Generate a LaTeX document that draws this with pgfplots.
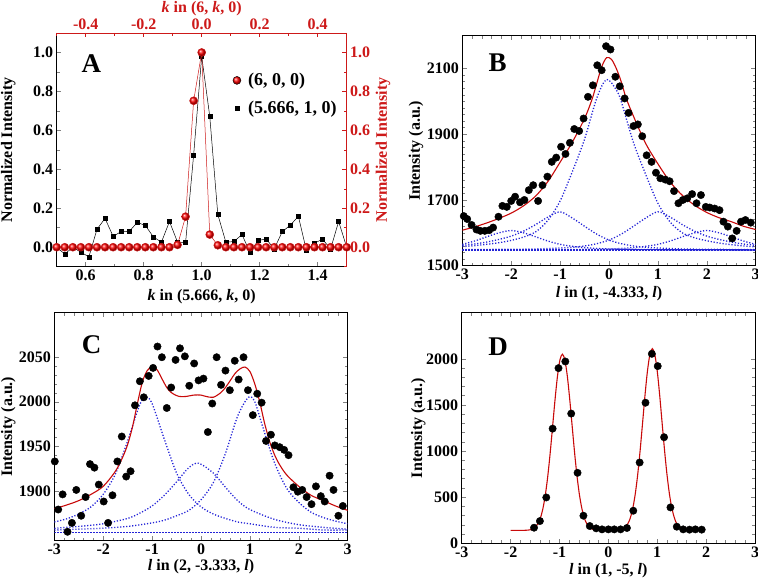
\documentclass[border=0pt]{standalone}
\usepackage{fontspec}
\setmainfont{Liberation Serif}
\usepackage{pgfplots}
\pgfplotsset{compat=1.18}
\definecolor{redA}{RGB}{205,25,25}
\definecolor{fitred}{RGB}{200,10,10}
\definecolor{compblue}{RGB}{35,35,215}
\pgfdeclareplotmark{redball}{\shade[ball color=red] (0pt,0pt) circle (\pgfplotmarksize);}
\pgfplotsset{
  every axis/.append style={
    scale only axis,
    /pgf/number format/assume math mode=true,
    /pgf/number format/1000 sep={},
    scaled ticks=false,
    tick align=inside,
    tick label style={font=\fontsize{16}{16}\selectfont\bfseries},
    label style={font=\fontsize{16}{18}\selectfont\bfseries},
    axis line style={line width=0.6pt},
    every tick/.append style={line width=0.5pt},
  },
  comp/.style={compblue, line width=1.3pt, dash pattern=on 1.2pt off 1.8pt, smooth},
  fit/.style={fitred, line width=1.1pt, smooth},
  pts/.style={only marks, mark=*, mark size=3.7pt, black},
}
\begin{document}
\begin{tikzpicture}
% ---------------- Panel A : bottom/left axis (black squares)
\begin{axis}[at={(56.7pt,313.3pt)}, anchor=south west, width=290pt, height=233.7pt,
  xmin=0.5, xmax=1.5, ymin=-0.1, ymax=1.1, clip=false,
  axis x line*=bottom, axis y line*=left,
  xtick={0.6,0.8,1.0,1.2,1.4}, minor xtick={0.5,0.7,0.9,1.1,1.3,1.5},
  ytick={0,0.2,0.4,0.6,0.8,1.0}, minor ytick={-0.1,0.1,0.3,0.5,0.7,0.9,1.1},
  xticklabel style={/pgf/number format/.cd,fixed,fixed zerofill,precision=1},
  yticklabel style={/pgf/number format/.cd,fixed,fixed zerofill,precision=1},
  xlabel={\textit{k} in (5.666, \textit{k}, 0)}, ylabel={Normalized Intensity},
  xlabel style={at={(axis description cs:0.5,-0.128)}, anchor=center},
  ylabel style={at={(axis description cs:-0.167,0.5)}, anchor=center},
  legend style={at={(axis description cs:0.596,0.845)}, anchor=north west, draw=none, fill=none,
    font=\fontsize{18}{20}\selectfont\bfseries, row sep=10pt, cells={anchor=west},
    /tikz/every odd column/.append style={column sep=5pt}},
  legend image code/.code={\draw[#1] plot coordinates {(0.2cm,0cm)};},
]
\addlegendimage{only marks, mark=redball, mark size=4pt}
\addlegendentry{(6, 0, 0)}
\addlegendimage{only marks, mark=square*, mark size=2.2pt, black}
\addlegendentry{(5.666, 1, 0)}
\addplot[black, line width=0.5pt, mark=square*, mark size=2pt, forget plot] coordinates {
(0.5,0.0) (0.52778,-0.035) (0.55556,0.0) (0.58333,-0.026) (0.61111,-0.049) (0.63889,0.092)
(0.66667,0.148) (0.69444,0.056) (0.72222,0.080) (0.75,0.081) (0.77778,0.127) (0.80556,0.112)
(0.83333,0.053) (0.86111,0.026) (0.88889,0.132) (0.91667,0.026) (0.94444,0.024) (0.97222,0.474)
(1.0,0.98) (1.02778,0.672) (1.05556,0.168) (1.08333,0.026) (1.11111,0.029) (1.13889,0.065)
(1.16667,-0.027) (1.19444,0.034) (1.22222,0.043) (1.25,-0.009) (1.27778,0.080) (1.30556,0.113)
(1.33333,0.159) (1.36111,-0.017) (1.38889,0.021) (1.41667,0.041) (1.44444,-0.009) (1.47222,0.132)
(1.5,0.0)};
\node[font=\fontsize{27}{27}\selectfont\bfseries] at (axis description cs:0.12,0.867) {A};
\end{axis}
% ---------------- Panel A : top/right axis (red balls)
\begin{axis}[at={(56.7pt,313.3pt)}, anchor=south west, width=290pt, height=233.7pt,
  xmin=-0.5, xmax=0.5, ymin=-0.1, ymax=1.1, clip=false,
  axis x line*=top, axis y line*=right,
  axis line style={redA, line width=0.6pt},
  every tick/.append style={redA},
  tick label style={text=redA},
  xtick={-0.4,-0.2,0,0.2,0.4}, minor xtick={-0.5,-0.3,-0.1,0.1,0.3,0.5},
  ytick={0,0.2,0.4,0.6,0.8,1.0}, minor ytick={-0.1,0.1,0.3,0.5,0.7,0.9,1.1},
  xticklabel style={/pgf/number format/.cd,fixed,fixed zerofill,precision=1},
  yticklabel style={/pgf/number format/.cd,fixed,fixed zerofill,precision=1},
  xlabel={\textit{k} in (6, \textit{k}, 0)}, ylabel={Normalized Intensity},
  xlabel style={at={(axis description cs:0.5,1.106)}, anchor=center, text=redA},
  ylabel style={at={(axis description cs:1.125,0.5)}, anchor=center, text=redA},
]
\addplot[redA, line width=0.5pt, mark=redball, mark size=4pt] coordinates {
(-0.5,0) (-0.47222,0) (-0.44444,0) (-0.41667,0) (-0.38889,0) (-0.36111,0) (-0.33333,0)
(-0.30556,0) (-0.27778,0) (-0.25,0) (-0.22222,0) (-0.19444,0) (-0.16667,0) (-0.13889,0)
(-0.11111,0) (-0.08333,0.012) (-0.05556,0.157) (-0.02778,0.752) (0,1.0) (0.02778,0.065)
(0.05556,0.01) (0.08333,0) (0.11111,0) (0.13889,0) (0.16667,0) (0.19444,0) (0.22222,0)
(0.25,0) (0.27778,0) (0.30556,0) (0.33333,0) (0.36111,0) (0.38889,0) (0.41667,0)
(0.44444,0) (0.47222,0) (0.5,0)};
\end{axis}
% ---------------- Panel B
\begin{axis}[at={(462.3pt,314.3pt)}, anchor=south west, width=293.4pt, height=230pt,
  xmin=-3, xmax=3, ymin=1500, ymax=2200,
  xtick={-3,-2,-1,0,1,2,3}, minor x tick num=4,
  ytick={1500,1700,1900,2100}, minor y tick num=9,
  xlabel={\textit{l} in (1, -4.333, \textit{l})}, ylabel={Intensity (a.u.)},
  xlabel style={at={(axis description cs:0.5,-0.12)}, anchor=center},
  ylabel style={at={(axis description cs:-0.158,0.5)}, anchor=center},
]
\addplot[comp] coordinates {(-3,1548) (3,1548)};
\addplot[comp] coordinates {(-3,1558) (-2.75,1561) (-2.5,1565) (-2.25,1570) (-2,1577) (-1.75,1587) (-1.5,1603) (-1.25,1638) (-1,1697) (-0.75,1786) (-0.5,1885) (-0.25,2010) (-0.05,2067) (0.15,2035) (0.25,2000) (0.5,1875) (0.75,1778) (1,1690) (1.25,1633) (1.5,1600) (1.75,1585) (2,1576) (2.25,1569) (2.5,1564) (2.75,1560) (3,1557)};
\addplot[comp] coordinates {(-3,1562) (-2.75,1566) (-2.5,1572) (-2.25,1580) (-2,1590) (-1.75,1605) (-1.5,1625) (-1.25,1648) (-1,1664) (-0.75,1645) (-0.5,1620) (-0.25,1596) (0,1578) (0.25,1567) (0.5,1560) (0.75,1556) (1,1554) (1.5,1551) (2,1550) (3,1549)};
\addplot[comp] coordinates {(-3,1549) (-2,1550) (-1.5,1551) (-1,1554) (-0.75,1556) (-0.5,1560) (-0.25,1567) (0,1578) (0.25,1596) (0.5,1620) (0.75,1645) (1,1664) (1.25,1648) (1.5,1625) (1.75,1605) (2,1590) (2.25,1580) (2.5,1572) (2.75,1566) (3,1562)};
\addplot[comp] coordinates {(-3,1565) (-2.75,1575) (-2.5,1588) (-2.25,1600) (-2,1607) (-1.75,1600) (-1.5,1588) (-1.25,1575) (-1,1565) (-0.75,1559) (-0.5,1555) (0,1551) (1,1549) (3,1548)};
\addplot[comp] coordinates {(-3,1548) (-1,1549) (0,1551) (0.5,1555) (0.75,1559) (1,1565) (1.25,1575) (1.5,1588) (1.75,1600) (2,1607) (2.25,1600) (2.5,1588) (2.75,1575) (3,1565)};
\addplot[pts] coordinates {
(-2.97,1651) (-2.90,1642) (-2.81,1624) (-2.71,1610) (-2.63,1606) (-2.54,1606) (-2.45,1608)
(-2.37,1616) (-2.26,1649) (-2.18,1682) (-2.09,1679) (-2.00,1697) (-1.92,1710) (-1.82,1693)
(-1.73,1700) (-1.64,1730) (-1.55,1745) (-1.45,1697) (-1.36,1745) (-1.26,1771) (-1.17,1816)
(-1.08,1829) (-0.98,1862) (-0.89,1840) (-0.80,1874) (-0.71,1916) (-0.61,1910) (-0.52,1948)
(-0.43,2014) (-0.33,2049) (-0.24,2110) (-0.15,2095) (-0.06,2168) (0.03,2158) (0.13,2075)
(0.22,2046) (0.32,2009) (0.40,1965) (0.50,1925) (0.59,1930) (0.68,1894) (0.77,1836)
(0.87,1816) (0.96,1783) (1.05,1766) (1.15,1762) (1.24,1757) (1.33,1727) (1.42,1690)
(1.51,1700) (1.60,1705) (1.70,1718) (1.79,1690) (1.88,1715) (1.98,1679) (2.06,1677)
(2.16,1674) (2.26,1669) (2.34,1634) (2.43,1619) (2.52,1583) (2.61,1606) (2.70,1634)
(2.79,1639) (2.90,1631)};
\addplot[fit] coordinates {(-3,1608) (-2.75,1618) (-2.5,1630) (-2.25,1644) (-2,1660) (-1.75,1682) (-1.5,1712) (-1.25,1756) (-1,1815) (-0.75,1876) (-0.5,1948) (-0.35,2005) (-0.25,2055) (-0.15,2105) (-0.05,2133) (0.05,2128) (0.15,2100) (0.25,2060) (0.35,2010) (0.5,1955) (0.75,1872) (1,1810) (1.25,1755) (1.5,1714) (1.75,1684) (2,1662) (2.25,1646) (2.5,1634) (2.75,1620) (3,1610)};
\node[font=\fontsize{27}{27}\selectfont\bfseries] at (axis description cs:0.12,0.883) {B};
\end{axis}
% ---------------- Panel C
\begin{axis}[at={(54.3pt,39.3pt)}, anchor=south west, width=293.4pt, height=228pt,
  xmin=-3, xmax=3, ymin=1844, ymax=2100,
  xtick={-3,-2,-1,0,1,2,3}, minor x tick num=4,
  ytick={1900,1950,2000,2050}, minor y tick num=4,
  xlabel={\textit{l} in (2, -3.333, \textit{l})}, ylabel={Intensity (a.u.)},
  xlabel style={at={(axis description cs:0.5,-0.113)}, anchor=center},
  ylabel style={at={(axis description cs:-0.157,0.5)}, anchor=center},
]
\addplot[comp] coordinates {(-3,1853) (3,1853)};
\addplot[comp] coordinates {(-3,1865) (-2.75,1868.5) (-2.5,1874) (-2.25,1882) (-2,1896) (-1.75,1919) (-1.5,1956) (-1.25,1997) (-1.12,2005) (-1,1998) (-0.75,1958) (-0.5,1920) (-0.25,1896) (0,1882) (0.25,1874) (0.5,1869) (0.75,1865) (1,1863) (1.5,1859) (2,1858) (2.5,1856) (3,1856)};
\addplot[comp] coordinates {(-3,1856) (-2.5,1857) (-2,1858) (-1.5,1860) (-1,1864) (-0.75,1867) (-0.5,1872) (-0.25,1878) (0,1890) (0.25,1909) (0.5,1942) (0.75,1984) (0.97,2005) (1.1,2000) (1.25,1974) (1.5,1932) (1.75,1903) (2,1887) (2.25,1876) (2.5,1870) (2.75,1866) (3,1863)};
\addplot[comp] coordinates {(-3,1858) (-2.5,1860) (-2,1863) (-1.5,1869) (-1.25,1875) (-1,1883) (-0.75,1895) (-0.5,1910) (-0.25,1926) (-0.05,1931) (0.25,1920) (0.5,1904) (0.75,1889) (1,1879) (1.5,1868) (2,1862) (2.5,1859) (3,1857)};
\addplot[pts] coordinates {
(-2.99,1933) (-2.92,1879) (-2.83,1896) (-2.73,1854) (-2.64,1864) (-2.55,1901) (-2.45,1872)
(-2.36,1893) (-2.27,1930) (-2.18,1926) (-2.09,1907) (-1.99,1888) (-1.90,1864) (-1.81,1895)
(-1.71,1933) (-1.62,1961) (-1.53,1916) (-1.44,1922) (-1.35,1996) (-1.25,2023) (-1.17,2005)
(-1.07,2029) (-0.98,2038) (-0.89,2062) (-0.80,2050) (-0.70,1993) (-0.61,2016) (-0.52,2047)
(-0.43,2060) (-0.33,2051) (-0.24,2018) (-0.14,2043) (-0.05,2024) (0.05,2026) (0.14,1966)
(0.23,1998) (0.32,2050) (0.41,2019) (0.50,2035) (0.59,2013) (0.69,2046) (0.77,2025)
(0.87,2050) (0.96,2013) (1.06,1985) (1.15,2009) (1.24,1999) (1.33,1956) (1.43,1963)
(1.51,1951) (1.61,1949) (1.70,1946) (1.79,1940) (1.89,1904) (1.98,1899) (2.07,1901)
(2.16,1893) (2.26,1885) (2.35,1905) (2.45,1894) (2.53,1888) (2.63,1917) (2.71,1901)
(2.81,1872) (2.90,1883)};
\addplot[fit] coordinates {(-3,1880) (-2.75,1884) (-2.5,1889) (-2.25,1896) (-2,1905) (-1.75,1922) (-1.6,1938) (-1.5,1952) (-1.4,1972) (-1.3,1998) (-1.2,2022) (-1.1,2035) (-1.0,2039) (-0.9,2036) (-0.8,2026) (-0.7,2016) (-0.6,2010) (-0.45,2006) (-0.3,2006) (-0.15,2007.5) (0,2007.5) (0.1,2006) (0.25,2005) (0.4,2010) (0.5,2016) (0.6,2024) (0.7,2032) (0.8,2037) (0.9,2039) (1.0,2034) (1.1,2020) (1.2,2000) (1.3,1976) (1.4,1956) (1.5,1941) (1.6,1930) (1.75,1918) (2,1905) (2.25,1895) (2.5,1889) (2.75,1883) (3,1878)};
\node[font=\fontsize{27}{27}\selectfont\bfseries] at (axis description cs:0.127,0.858) {C};
\end{axis}
% ---------------- Panel D
\begin{axis}[at={(461.7pt,36.7pt)}, anchor=south west, width=293.3pt, height=230.6pt,
  xmin=-3, xmax=3, ymin=0, ymax=2500,
  xtick={-3,-2,-1,0,1,2,3}, minor x tick num=4,
  ytick={0,500,1000,1500,2000}, minor y tick num=4,
  xlabel={\textit{l} in (1, -5, \textit{l})}, ylabel={Intensity (a.u.)},
  xlabel style={at={(axis description cs:0.5,-0.118)}, anchor=center},
  ylabel style={at={(axis description cs:-0.148,0.5)}, anchor=center},
]
\addplot[pts] coordinates {
(-1.52,169) (-1.40,241) (-1.27,497) (-1.14,1243) (-1.02,1899) (-0.88,1971) (-0.76,1406)
(-0.63,764) (-0.51,299) (-0.38,187) (-0.25,162) (-0.13,151) (0.0,151) (0.12,151) (0.25,151)
(0.38,166) (0.51,353) (0.64,876) (0.76,1524) (0.89,2054) (1.01,1921) (1.14,1150) (1.27,389)
(1.40,180) (1.53,151) (1.66,148) (1.78,151) (1.91,148)};
\addplot[fit] coordinates {(-2,140) (-1.8,140) (-1.7,141) (-1.64,143) (-1.54,157) (-1.44,211) (-1.39,273) (-1.34,373) (-1.29,521) (-1.24,724) (-1.19,979) (-1.14,1269) (-1.09,1561) (-1.04,1815) (-0.99,1989) (-0.94,2050) (-0.89,1989) (-0.84,1815) (-0.79,1561) (-0.74,1269) (-0.69,979) (-0.64,724) (-0.59,521) (-0.54,373) (-0.49,273) (-0.44,211) (-0.34,157) (-0.24,143) (-0.14,140) (0.1,140) (0.2,143) (0.3,157) (0.4,213) (0.45,277) (0.5,380) (0.55,533) (0.6,743) (0.65,1006) (0.7,1304) (0.75,1606) (0.8,1868) (0.85,2047) (0.9,2110) (0.95,2047) (1.0,1868) (1.05,1606) (1.1,1304) (1.15,1006) (1.2,743) (1.25,533) (1.3,380) (1.35,277) (1.4,213) (1.5,157) (1.6,143) (1.7,140) (1.97,140)};
\node[font=\fontsize{27}{27}\selectfont\bfseries] at (axis description cs:0.124,0.851) {D};
\end{axis}
\pgfresetboundingbox
\path[use as bounding box] (0pt,0pt) rectangle (758pt,580pt);
\end{tikzpicture}
\end{document}
